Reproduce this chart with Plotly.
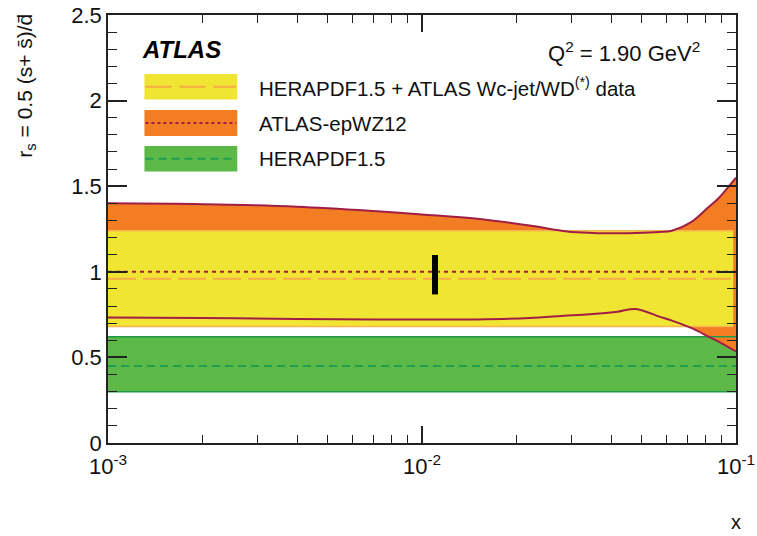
import plotly.graph_objects as go

# ---- data -------------------------------------------------------------
x_edges = [0.001, 0.1]          # full x range of the flat bands
x_fit_end = 0.098               # Wc-jet/WD fit band stops just short of x=0.1

# HERAPDF1.5 + ATLAS Wc-jet/WD(*) data
fit_lo, fit_mid, fit_hi = 0.68, 0.96, 1.24
# HERAPDF1.5
hera_lo, hera_mid, hera_hi = 0.30, 0.45, 0.62
# ATLAS-epWZ12 central value and uncertainty envelope
epwz_mid = 1.00
epwz_x = [0.001, 0.002, 0.004, 0.007, 0.010, 0.015, 0.022, 0.029, 0.035,
          0.042, 0.048, 0.057, 0.0625, 0.072, 0.082, 0.088, 0.093, 0.1]
epwz_hi = [1.40, 1.395, 1.38, 1.355, 1.335, 1.31, 1.27, 1.235, 1.227,
           1.225, 1.226, 1.232, 1.24, 1.29, 1.38, 1.43, 1.48, 1.55]
epwz_lo = [0.733, 0.730, 0.725, 0.722, 0.721, 0.722, 0.730, 0.745, 0.753,
           0.767, 0.783, 0.738, 0.715, 0.672, 0.620, 0.592, 0.568, 0.535]
# measured point (vertical bar)
point_x = 0.011
point_lo, point_hi = 0.868, 1.098

y_ticks = [0, 0.5, 1, 1.5, 2, 2.5]
y_ticktext = ["0", "0.5", "1", "1.5", "2", "2.5"]
x_ticks = [0.001, 0.01, 0.1]
x_ticktext = ["10<sup>-3</sup>", "10<sup>-2</sup>", "10<sup>-1</sup>"]

# ---- styles -----------------------------------------------------------
YELLOW = "#f0e533"
YELLOW_EDGE = "#f6b54e"
YELLOW_DASH = "#f7aa45"
ORANGE = "#f37d23"
DARKRED = "#a01e46"
GREEN = "#5cb947"
GREEN_EDGE = "#22994a"
GREEN_DASH = "#1f9e50"
FONT = "Liberation Sans, Arial, Helvetica, sans-serif"

fig = go.Figure()


def band(x, lo, hi, color, shape="linear"):
    fig.add_trace(go.Scatter(x=x, y=lo, mode="lines", line=dict(width=0, shape=shape),
                             hoverinfo="skip", showlegend=False))
    fig.add_trace(go.Scatter(x=x, y=hi, mode="lines", line=dict(width=0, shape=shape),
                             fill="tonexty", fillcolor=color,
                             hoverinfo="skip", showlegend=False))


def hline(x, y, color, width, dash="solid", shape="linear"):
    fig.add_trace(go.Scatter(x=x, y=y, mode="lines",
                             line=dict(color=color, width=width, dash=dash, shape=shape),
                             hoverinfo="skip", showlegend=False))


# HERAPDF1.5 band
band(x_edges, [hera_lo] * 2, [hera_hi] * 2, GREEN)
# ATLAS-epWZ12 band
band(epwz_x, epwz_lo, epwz_hi, ORANGE, shape="spline")
# combined fit band
x_fit = [x_edges[0], x_fit_end]
band(x_fit, [fit_lo] * 2, [fit_hi] * 2, YELLOW)

# band edges and central values
hline(x_edges, [hera_lo] * 2, GREEN_EDGE, 1.5)
hline(x_edges, [hera_hi] * 2, GREEN_EDGE, 1.5)
hline(x_edges, [hera_mid] * 2, GREEN_DASH, 2, dash="8px,5px")
hline(x_fit, [fit_lo] * 2, YELLOW_EDGE, 1.5)
hline(x_fit, [fit_hi] * 2, YELLOW_EDGE, 1.5)
hline(epwz_x, epwz_hi, DARKRED, 2, shape="spline")
hline(epwz_x, epwz_lo, DARKRED, 2, shape="spline")
hline(x_edges, [epwz_mid] * 2, DARKRED, 2, dash="4px,4px")
hline(x_edges, [fit_mid] * 2, YELLOW_DASH, 2, dash="28px,7px")

# measured point
fig.add_trace(go.Scatter(x=[point_x, point_x], y=[point_lo, point_hi], mode="lines",
                         line=dict(color="black", width=6),
                         hoverinfo="skip", showlegend=False))

# ---- legend, labels (pixel layout converted to paper coords) ------------
L, R, T, B = 107.5, 736.5, 15, 443


def px(x):
    return (x - L) / (R - L)


def py(y):
    return (B - y) / (B - T)


shapes = []
legend_rows = [
    (74, 99.5, YELLOW, YELLOW_DASH, "26px,8px",
     "HERAPDF1.5 + ATLAS Wc-jet/WD<sup>(*)</sup> data"),
    (110, 136, ORANGE, DARKRED, "3px,3px", "ATLAS-epWZ12"),
    (146, 171.5, GREEN, GREEN_DASH, "8px,5px", "HERAPDF1.5"),
]
annotations = []
for y0, y1, fillc, linec, dash, label in legend_rows:
    shapes.append(dict(type="rect", xref="paper", yref="paper",
                       x0=px(144), x1=px(237), y0=py(y1), y1=py(y0),
                       fillcolor=fillc, line=dict(width=0), layer="above"))
    ym = py((y0 + y1) / 2)
    shapes.append(dict(type="line", xref="paper", yref="paper",
                       x0=px(145), x1=px(236), y0=ym, y1=ym,
                       line=dict(color=linec, width=2, dash=dash), layer="above"))
    annotations.append(dict(xref="paper", yref="paper", x=px(256.5), y=ym,
                            xanchor="left", yanchor="middle", showarrow=False,
                            text=label, font=dict(family=FONT, size=20.5, color="#111")))

annotations.append(dict(xref="paper", yref="paper", x=px(140), y=py(50),
                        xanchor="left", yanchor="middle", showarrow=False,
                        text="<b><i>ATLAS</i></b>",
                        font=dict(family=FONT, size=24, color="black")))
annotations.append(dict(xref="paper", yref="paper", x=px(702), y=py(52),
                        xanchor="right", yanchor="middle", showarrow=False,
                        text="Q<sup>2</sup> = 1.90 GeV<sup>2</sup>",
                        font=dict(family=FONT, size=22, color="#111")))
# axis titles
annotations.append(dict(xref="paper", yref="paper", x=px(25), y=py(12),
                        xanchor="center", yanchor="top", showarrow=False, textangle=-90,
                        text="r<sub>s</sub> = 0.5 (s+ s\u0304)/d\u0304",
                        font=dict(family=FONT, size=21, color="#111")))
annotations.append(dict(xref="paper", yref="paper", x=px(744), y=py(522),
                        xanchor="right", yanchor="middle", showarrow=False,
                        text="x", font=dict(family=FONT, size=20, color="#111")))

axis_common = dict(showline=True, linecolor="#222", linewidth=1.5, mirror="ticks",
                   ticks="inside", tickcolor="#222", tickwidth=1.5,
                   showgrid=False, zeroline=False, automargin=False,
                   tickfont=dict(family=FONT, size=22, color="#111"))

fig.update_layout(
    template="none",
    width=757, height=536,
    margin=dict(l=L, r=757 - R, t=T, b=536 - B, pad=0, autoexpand=False),
    paper_bgcolor="white", plot_bgcolor="white",
    showlegend=False,
    shapes=shapes, annotations=annotations,
    xaxis=dict(type="log", range=[-3, -1], tickmode="array", tickvals=x_ticks,
               ticktext=x_ticktext, ticklen=17, ticklabelstandoff=3,
               minor=dict(ticks="inside", ticklen=8, tickcolor="#222", tickwidth=1.2,
                          dtick="D1", showgrid=False),
               **axis_common),
    yaxis=dict(range=[0, 2.5], tickmode="array", tickvals=y_ticks, ticktext=y_ticktext,
               ticklen=19,
               minor=dict(ticks="inside", ticklen=9, tickcolor="#222", tickwidth=1.2,
                          dtick=0.1, showgrid=False),
               **axis_common),
)

fig.write_html("out.html")
